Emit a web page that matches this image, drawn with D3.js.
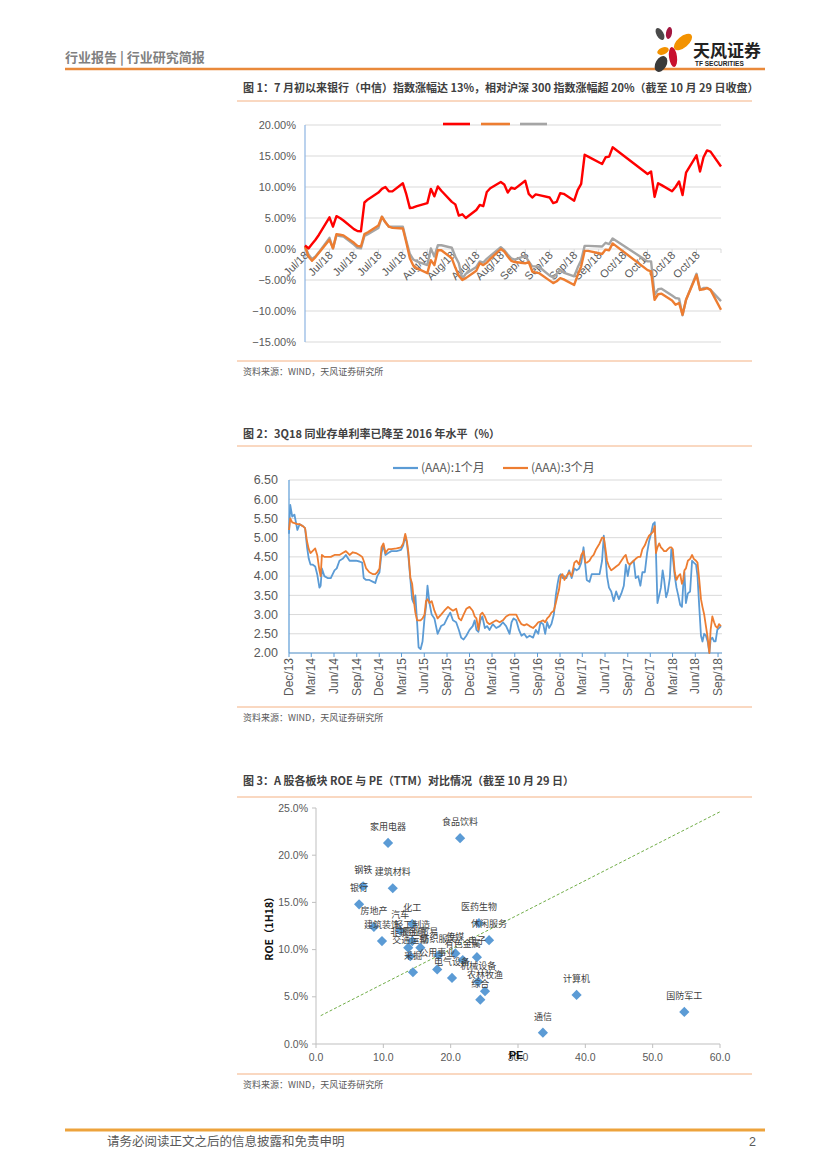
<!DOCTYPE html>
<html>
<head>
<meta charset="utf-8">
<script src="https://cdn.jsdelivr.net/npm/d3@7"></script>
<style>
body { margin: 0; background: #fff; }
svg { display: block; }
</style>
</head>
<body>
<svg id="page" width="827" height="1169"></svg>
<script>
/* global d3 */

// ---------- figure 1: bank index vs benchmarks, Jul-Oct 2018 (%) ----------
const perfDates = [
  '2018-07-02', '2018-07-03', '2018-07-04', '2018-07-05', '2018-07-06', '2018-07-09', '2018-07-10', '2018-07-11',
  '2018-07-12', '2018-07-13', '2018-07-16', '2018-07-17', '2018-07-18', '2018-07-19', '2018-07-20', '2018-07-23',
  '2018-07-24', '2018-07-25', '2018-07-26', '2018-07-27', '2018-07-30', '2018-07-31',
  '2018-08-01', '2018-08-02', '2018-08-03', '2018-08-06', '2018-08-07', '2018-08-08', '2018-08-09', '2018-08-10',
  '2018-08-13', '2018-08-14', '2018-08-15', '2018-08-16', '2018-08-17', '2018-08-20', '2018-08-21', '2018-08-22',
  '2018-08-23', '2018-08-24', '2018-08-27', '2018-08-28', '2018-08-29', '2018-08-30', '2018-08-31',
  '2018-09-03', '2018-09-04', '2018-09-05', '2018-09-06', '2018-09-07', '2018-09-10', '2018-09-11', '2018-09-12',
  '2018-09-13', '2018-09-14', '2018-09-17', '2018-09-18', '2018-09-19', '2018-09-20', '2018-09-21', '2018-09-25',
  '2018-09-26', '2018-09-27', '2018-09-28',
  '2018-10-08', '2018-10-09', '2018-10-10', '2018-10-11', '2018-10-12', '2018-10-15', '2018-10-16', '2018-10-17',
  '2018-10-18', '2018-10-19', '2018-10-22', '2018-10-23', '2018-10-24', '2018-10-25', '2018-10-26', '2018-10-29'
];
const perfRed = [
  0.6, 0.1, 0.8, 1.5, 2.3, 5.1, 3.6, 5.3, 5.0, 4.6, 3.2, 2.9, 2.85, 7.5, 8.0, 9.1, 9.7, 10.0, 9.3, 9.3, 10.6, 8.8,
  6.6, 6.7, 6.9, 7.4, 9.7, 8.5, 10.1, 9.4, 7.6, 7.2, 5.4, 5.6, 5.0, 6.3, 7.1, 6.9, 9.2, 9.8, 10.8, 10.4, 9.1, 9.9, 9.7,
  11.0, 8.9, 8.3, 8.8, 8.7, 8.3, 7.4, 7.6, 9.0, 8.9, 7.8, 9.5, 10.5, 15.2, 14.9, 13.7, 14.8, 14.9, 16.4,
  12.1, 12.5, 8.4, 10.6, 10.3, 9.3, 10.0, 10.9, 8.7, 12.3, 15.1, 12.5, 14.8, 15.9, 15.7, 13.3
];
const perfOrange = [
  0.4, -1.2, -1.9, -1.3, -0.6, 1.5, 0.1, 2.4, 2.3, 2.2, 1.0, 0.5, 0.4, 2.4, 2.7, 3.8, 5.2, 4.3, 3.6, 3.4, 3.3, 1.0,
  -1.5, -2.7, -3.1, -3.9, -1.8, -2.6, -0.2, -0.2, -1.5, -3.0, -4.3, -5.0, -4.7, -3.5, -2.3, -2.6, -2.2, -1.6, 0.0, -0.4,
  -1.2, -1.9, -2.1,
  -2.3, -2.1, -3.6, -3.8, -3.9, -5.1, -5.5, -5.2, -4.7, -4.9, -5.8, -4.2, -2.8, -0.3, -0.3, -0.8, -0.1, -0.2, 0.9,
  -3.4, -3.6, -8.2, -7.3, -7.2, -8.3, -9.0, -8.7, -10.6, -8.2, -4.2, -6.6, -6.5, -6.3, -6.6, -9.8
];
const perfGray = [
  0.5, -0.9, -1.6, -1.2, -0.5, 1.8, 0.1, 2.2, 2.1, 2.0, 0.7, 0.2, 0.1, 2.1, 2.4, 3.4, 5.2, 4.3, 3.6, 3.6, 3.6, 1.3,
  -0.8, -1.7, -2.0, -2.6, 0.1, -1.2, 0.6, 0.6, 0.2, -1.2, -2.3, -4.8, -4.0, -2.9, -2.0, -2.2, -1.6, -1.1, 0.3, -0.2,
  -0.9, -1.5, -1.7,
  -1.1, -2.0, -2.8, -2.8, -2.9, -4.3, -4.6, -4.0, -3.4, -3.8, -4.4, -3.0, -1.8, 0.5, 0.5, 0.4, 1.0, 0.8, 1.7,
  -2.0, -2.0, -7.4, -6.5, -6.4, -7.5, -7.9, -8.0, -10.7, -8.2, -4.0, -6.6, -6.3, -6.3, -6.6, -8.4
];
const perfTicks = [-15, -10, -5, 0, 5, 10, 15, 20];

// ---------- figure 2: NCD yields, AAA 1M / 3M (%) ----------
const rateDates = [
  '2013-12-01', '2013-12-06', '2013-12-14', '2013-12-23', '2014-01-04', '2014-01-13', '2014-01-26', '2014-02-04', '2014-02-12', '2014-02-19',
  '2014-02-26', '2014-03-06', '2014-03-17', '2014-03-25', '2014-04-03', '2014-04-08', '2014-04-13', '2014-04-23', '2014-05-06', '2014-05-19',
  '2014-06-03', '2014-06-12', '2014-06-23', '2014-07-06', '2014-07-19', '2014-08-03', '2014-08-16', '2014-08-29', '2014-09-12', '2014-09-23',
  '2014-09-29', '2014-10-09', '2014-10-22', '2014-11-06', '2014-11-15', '2014-11-23', '2014-12-02', '2014-12-10', '2014-12-18', '2014-12-26',
  '2015-01-06', '2015-01-19', '2015-02-09', '2015-02-27', '2015-03-08', '2015-03-16', '2015-03-23', '2015-03-29', '2015-04-06', '2015-04-13',
  '2015-04-19', '2015-04-26', '2015-05-03', '2015-05-09', '2015-05-17', '2015-05-25', '2015-06-02', '2015-06-08', '2015-06-14', '2015-06-22',
  '2015-07-01', '2015-07-12', '2015-07-25', '2015-08-08', '2015-08-21', '2015-09-05', '2015-09-14', '2015-09-25', '2015-10-08', '2015-10-19',
  '2015-10-28', '2015-11-07', '2015-11-18', '2015-12-01', '2015-12-14', '2015-12-22', '2015-12-29', '2016-01-06', '2016-01-14', '2016-01-22',
  '2016-02-01', '2016-02-10', '2016-02-20', '2016-03-04', '2016-03-18', '2016-04-01', '2016-04-14', '2016-04-27', '2016-05-11', '2016-05-19',
  '2016-05-27', '2016-06-07', '2016-06-18', '2016-06-28', '2016-07-09', '2016-07-20', '2016-07-31', '2016-08-14', '2016-08-25', '2016-09-04',
  '2016-09-13', '2016-09-24', '2016-10-02', '2016-10-10', '2016-10-18', '2016-10-27', '2016-11-06', '2016-11-14', '2016-11-21', '2016-11-27',
  '2016-12-04', '2016-12-11', '2016-12-19', '2016-12-27', '2017-01-07', '2017-01-17', '2017-01-28', '2017-02-06', '2017-02-16', '2017-02-25',
  '2017-03-06', '2017-03-13', '2017-03-19', '2017-03-30', '2017-04-08', '2017-04-16', '2017-04-26', '2017-05-10', '2017-05-20', '2017-05-27',
  '2017-06-02', '2017-06-09', '2017-06-17', '2017-06-26', '2017-07-06', '2017-07-16', '2017-07-27', '2017-08-06', '2017-08-16', '2017-08-24',
  '2017-09-01', '2017-09-09', '2017-09-17', '2017-09-25', '2017-10-03', '2017-10-13', '2017-10-22', '2017-10-30', '2017-11-09', '2017-11-18',
  '2017-11-26', '2017-12-04', '2017-12-12', '2017-12-19', '2017-12-24', '2017-12-30', '2018-01-06', '2018-01-13', '2018-01-20', '2018-01-26',
  '2018-02-03', '2018-02-10', '2018-02-18', '2018-02-24', '2018-03-02', '2018-03-10', '2018-03-17', '2018-03-24', '2018-04-01', '2018-04-08',
  '2018-04-13', '2018-04-18', '2018-04-24', '2018-05-02', '2018-05-11', '2018-05-19', '2018-05-26', '2018-06-04', '2018-06-10', '2018-06-17',
  '2018-06-24', '2018-06-30', '2018-07-07', '2018-07-14', '2018-07-21', '2018-07-28', '2018-08-02', '2018-08-09', '2018-08-16', '2018-08-22',
  '2018-08-29', '2018-09-05', '2018-09-13'
];
const rate1M = [
  5.10, 5.85, 5.55, 5.60, 5.20, 5.35, 5.30, 5.25, 4.75, 4.45,
  4.30, 4.30, 4.25, 4.05, 3.70, 3.75, 4.20, 4.00, 3.95, 3.95,
  4.15, 4.20, 4.40, 4.45, 4.55, 4.40, 4.40, 4.40, 4.38, 4.35,
  3.95, 3.90, 3.90, 3.85, 3.82, 4.00, 4.10, 4.60, 4.80, 4.55,
  4.60, 4.65, 4.65, 4.68, 4.80, 5.05, 4.85, 4.50, 3.90, 3.40,
  3.30, 3.50, 2.80, 2.15, 2.10, 2.30, 2.90, 3.20, 3.75, 3.30,
  3.00, 2.90, 2.50, 2.70, 2.75, 2.95, 3.05, 2.85, 2.80, 2.60,
  2.40, 2.35, 2.45, 2.60, 2.70, 2.85, 2.60, 2.55, 2.85, 2.95,
  2.65, 2.70, 2.60, 2.75, 2.65, 2.70, 2.80, 2.70, 2.50, 2.80,
  2.90, 2.85, 2.60, 2.45, 2.50, 2.40, 2.45, 2.40, 2.60, 2.50,
  2.80, 2.75, 2.50, 2.80, 2.65, 2.75, 3.00, 3.50, 3.80, 4.00,
  4.05, 3.95, 4.00, 3.95, 4.15, 3.95, 4.20, 4.15, 4.20, 4.35,
  4.75, 4.30, 3.90, 3.85, 4.05, 4.05, 4.05, 4.05, 4.40, 5.05,
  4.60, 4.00, 3.70, 3.60, 3.35, 3.60, 3.40, 3.55, 3.75, 4.30,
  4.00, 4.30, 4.35, 4.40, 3.95, 4.00, 3.75, 4.10, 4.10, 4.60,
  4.90, 5.10, 5.35, 5.40, 4.60, 3.30, 3.50, 3.70, 4.15, 3.90,
  3.45, 3.60, 3.95, 4.70, 4.50, 4.00, 3.70, 3.50, 3.25, 3.20,
  3.75, 4.10, 3.30, 3.55, 3.60, 4.40, 4.35, 4.30, 4.00, 3.20,
  2.45, 2.30, 2.50, 2.45, 2.30, 2.00, 2.35, 2.40, 2.30, 2.30,
  2.60, 2.65, 2.70
];
const rate3M = [
  5.20, 5.50, 5.40, 5.38, 5.35, 5.35, 5.30, 5.25, 4.90, 4.70,
  4.60, 4.65, 4.72, 4.55, 4.15, 4.00, 4.55, 4.50, 4.50, 4.50,
  4.55, 4.55, 4.55, 4.60, 4.65, 4.55, 4.62, 4.60, 4.55, 4.50,
  4.40, 4.20, 4.10, 4.05, 4.05, 4.10, 4.20, 4.75, 4.85, 4.60,
  4.70, 4.70, 4.72, 4.75, 4.85, 5.10, 4.90, 4.60, 3.95, 3.80,
  3.40, 3.05, 2.85, 2.85, 2.85, 2.90, 3.00, 3.35, 3.40, 3.30,
  3.35, 3.10, 2.90, 3.00, 3.10, 3.20, 3.15, 3.10, 3.15, 2.90,
  2.85, 3.00, 3.15, 3.20, 3.10, 2.95, 2.90, 2.60, 3.00, 3.05,
  2.95, 2.80, 2.75, 2.80, 2.85, 2.80, 2.85, 2.95, 3.00, 3.00,
  3.00, 3.00, 2.85, 2.75, 2.72, 2.75, 2.70, 2.65, 2.72, 2.80,
  2.82, 2.85, 2.80, 2.90, 2.95, 3.05, 3.10, 3.30, 3.50, 3.65,
  4.00, 4.05, 3.90, 4.00, 4.10, 4.00, 4.35, 4.40, 4.30, 4.55,
  4.65, 4.35, 4.35, 4.40, 4.50, 4.55, 4.70, 4.85, 5.00, 5.00,
  4.75, 4.40, 4.25, 4.15, 4.20, 4.25, 4.30, 4.40, 4.50, 4.55,
  4.35, 4.30, 4.35, 4.40, 4.45, 4.50, 4.50, 4.70, 4.80, 4.95,
  5.05, 5.10, 5.15, 5.30, 4.60, 4.75, 4.85, 4.75, 4.70, 4.65,
  4.65, 4.70, 4.75, 4.75, 4.70, 4.10, 3.90, 4.00, 4.05, 3.80,
  3.90, 4.15, 4.20, 4.40, 4.45, 4.55, 4.45, 4.40, 4.35, 3.90,
  3.40, 3.20, 3.00, 2.70, 2.40, 2.00, 2.60, 2.95, 2.80, 2.70,
  2.65, 2.75, 2.70
];
const rateSeriesNames = ['(AAA):1个月', '(AAA):3个月'];
const rateTicks = [2.0, 2.5, 3.0, 3.5, 4.0, 4.5, 5.0, 5.5, 6.0, 6.5];

// ---------- figure 3: sector ROE (1H18) vs PE (TTM) ----------
const sectors = ['家用电器', '食品饮料', '钢铁', '建筑材料', '银行', '房地产', '建筑装饰', '汽车', '化工', '轻工制造',
  '非银金融', '商业贸易', '交通运输', '纺织服装', '传媒', '有色金属', '电子', '公用事业', '采掘', '电气设备',
  '机械设备', '农林牧渔', '综合', '医药生物', '休闲服务', '计算机', '通信', '国防军工'];
const sectorPE = [10.7, 21.4, 7.0, 11.4, 6.4, 8.6, 9.8, 12.5, 14.3, 14.3,
  13.7, 15.5, 14.0, 18.2, 20.7, 21.8, 23.9, 18.0, 14.4, 20.2,
  24.1, 25.1, 24.4, 24.2, 25.7, 38.7, 33.7, 54.7];
const sectorROE = [21.3, 21.8, 16.7, 16.5, 14.8, 12.4, 10.9, 12.0, 12.7, 10.9,
  10.2, 10.2, 9.3, 9.4, 9.6, 8.9, 9.2, 7.9, 7.6, 7.0,
  6.6, 5.6, 4.7, 12.8, 11.0, 5.2, 1.2, 3.4];
const trendPE = [0.7, 60];
const trendROE = [3.0, 24.6];
const peTicks = [0, 10, 20, 30, 40, 50, 60];
const roeTicks = [0, 5, 10, 15, 20, 25];

const CJK = '"Noto Sans CJK SC", sans-serif';
const NUM = '"Liberation Sans", Arial, sans-serif';
const TXT = '#595959';
const parse = d3.timeParse('%Y-%m-%d');
const svg = d3.select('#page');

// ---------- page header ----------
svg.append('text').attr('x', 65).attr('y', 62)
  .style('font-family', CJK).style('font-size', '13px').style('font-weight', 'bold')
  .style('fill', '#7f7f7f').text('行业报告 | 行业研究简报');
svg.append('line').attr('x1', 65).attr('x2', 765).attr('y1', 69).attr('y2', 69)
  .style('stroke', '#E9893A').style('stroke-width', 2.5);

const logo = svg.append('g');
const petals = [
  { cx: 660, cy: 34, rx: 3.5, ry: 6.5, r: -30, c: '#4a4a4a' },
  { cx: 669, cy: 33, rx: 3, ry: 6, r: 10, c: '#a3173f' },
  { cx: 683, cy: 42, rx: 5.5, ry: 11, r: 50, c: '#F39200' },
  { cx: 663, cy: 51, rx: 6, ry: 3.5, r: -20, c: '#F39200' },
  { cx: 673, cy: 57, rx: 4, ry: 10, r: -8, c: '#c8102e' },
  { cx: 661, cy: 64, rx: 5.5, ry: 8.5, r: 30, c: '#3a3a3a' }
];
logo.selectAll('ellipse').data(petals).enter().append('ellipse')
  .attr('cx', d => d.cx).attr('cy', d => d.cy).attr('rx', d => d.rx).attr('ry', d => d.ry)
  .attr('transform', d => `rotate(${d.r},${d.cx},${d.cy})`)
  .style('fill', d => d.c);
logo.append('text').attr('x', 693).attr('y', 57)
  .style('font-family', CJK).style('font-size', '17px').style('font-weight', 'bold')
  .style('fill', '#222').text('天风证券');
logo.append('text').attr('x', 695).attr('y', 66)
  .style('font-family', NUM).style('font-size', '6.5px').style('font-weight', 'bold')
  .style('fill', '#222').text('TF SECURITIES');

// ---------- captions and rules ----------
function rule(y) {
  svg.append('line').attr('x1', 237).attr('x2', 752).attr('y1', y).attr('y2', y)
    .style('stroke', '#F4B183').style('stroke-width', 1);
}
function caption(y, text) {
  svg.append('text').attr('x', 243).attr('y', y)
    .style('font-family', CJK).style('font-size', '11px').style('font-weight', 'bold')
    .style('fill', '#404040').text(text);
}
function source(y) {
  svg.append('text').attr('x', 243).attr('y', y)
    .style('font-family', CJK).style('font-size', '9px').style('fill', TXT)
    .text('资料来源：WIND，天风证券研究所');
}

caption(92, '图 1：7 月初以来银行（中信）指数涨幅达 13%，相对沪深 300 指数涨幅超 20%（截至 10 月 29 日收盘）');
rule(101);
rule(361);
source(375);

caption(438, '图 2：3Q18 同业存单利率已降至 2016 年水平（%）');
rule(446);
rule(707);
source(721);

caption(785, '图 3：A 股各板块 ROE 与 PE（TTM）对比情况（截至 10 月 29 日）');
rule(797);
rule(1074);
source(1088);

// ---------- figure 1 ----------
(function drawPerf() {
  const g = svg.append('g');
  const start = parse(perfDates[0]);
  const end = parse(perfDates[perfDates.length - 1]);
  const x = d3.scaleTime().domain([start, end]).range([305, 721]);
  const y = d3.scaleLinear().domain([-15, 20]).range([342, 125]);

  g.selectAll('.grid').data(perfTicks).enter().append('line')
    .attr('x1', 305).attr('x2', 721).attr('y1', d => y(d)).attr('y2', d => y(d))
    .style('stroke', '#d9d9d9').style('stroke-width', 1);
  g.append('line').attr('x1', 305).attr('x2', 305).attr('y1', y(20)).attr('y2', y(-15))
    .style('stroke', '#8DB4E2').style('stroke-width', 1.2);
  g.selectAll('.ylab').data(perfTicks).enter().append('text')
    .attr('x', 296).attr('y', d => y(d)).attr('dy', '0.35em').attr('text-anchor', 'end')
    .style('font-family', NUM).style('font-size', '11px').style('fill', TXT)
    .text(d => `${d3.format('.2f')(d)}%`);

  const weekTicks = d3.range(18).map(i => d3.timeDay.offset(start, 7 * i));
  g.selectAll('.tick').data(weekTicks).enter().append('line')
    .attr('x1', d => x(d)).attr('x2', d => x(d)).attr('y1', y(0)).attr('y2', y(0) + 4)
    .style('stroke', '#d9d9d9');
  const fmt = d3.timeFormat('%b/%y');
  g.selectAll('.xlab').data(weekTicks.slice(0, 17)).enter().append('text')
    .attr('transform', d => `translate(${x(d) + 4},${y(0) + 7}) rotate(-45)`)
    .attr('text-anchor', 'end')
    .style('font-family', NUM).style('font-size', '11px').style('fill', TXT)
    .text(d => fmt(d));

  const series = [
    { values: perfGray, color: '#A5A5A5' },
    { values: perfOrange, color: '#ED7D31' },
    { values: perfRed, color: '#FF0000' }
  ];
  const line = d3.line().x(d => x(d.date)).y(d => y(d.v));
  series.forEach(s => {
    const pts = perfDates.map((dt, i) => ({ date: parse(dt), v: s.values[i] }));
    g.append('path').datum(pts).attr('d', line)
      .style('fill', 'none').style('stroke', s.color).style('stroke-width', 2.4)
      .style('stroke-linejoin', 'round');
  });

  // legend swatches (no text in the original)
  const legend = [
    { x1: 443, x2: 470, color: '#FF0000' },
    { x1: 481, x2: 510, color: '#ED7D31' },
    { x1: 520, x2: 547, color: '#A5A5A5' }
  ];
  g.selectAll('.leg').data(legend).enter().append('line')
    .attr('x1', d => d.x1).attr('x2', d => d.x2).attr('y1', 124).attr('y2', 124)
    .style('stroke', d => d.color).style('stroke-width', 2.6);
}());

// ---------- figure 2 ----------
(function drawRates() {
  const g = svg.append('g');
  const start = parse('2013-12-01');
  const x = d3.scaleTime().domain([start, parse('2018-09-17')]).range([289, 722]);
  const y = d3.scaleLinear().domain([2, 6.5]).range([653, 480]);

  g.selectAll('.grid').data(rateTicks).enter().append('line')
    .attr('x1', 289).attr('x2', 722).attr('y1', d => y(d)).attr('y2', d => y(d))
    .style('stroke', '#d9d9d9');
  g.append('line').attr('x1', 289).attr('x2', 289).attr('y1', y(6.5)).attr('y2', y(2))
    .style('stroke', '#5B9BD5').style('stroke-width', 1.2);
  g.append('line').attr('x1', 289).attr('x2', 722).attr('y1', y(2)).attr('y2', y(2))
    .style('stroke', '#5B9BD5').style('stroke-width', 1.2);
  g.selectAll('.ylab').data(rateTicks).enter().append('text')
    .attr('x', 278).attr('y', d => y(d)).attr('dy', '0.35em').attr('text-anchor', 'end')
    .style('font-family', NUM).style('font-size', '12.5px').style('fill', TXT)
    .text(d => d3.format('.2f')(d));

  const quarters = d3.range(20).map(i => d3.timeMonth.offset(start, 3 * i));
  g.selectAll('.tick').data(quarters).enter().append('line')
    .attr('x1', d => x(d)).attr('x2', d => x(d)).attr('y1', y(2)).attr('y2', y(2) + 4)
    .style('stroke', '#5B9BD5');
  const fmt = d3.timeFormat('%b/%y');
  g.selectAll('.xlab').data(quarters).enter().append('text')
    .attr('transform', d => `translate(${x(d) + 4},${y(2) + 5}) rotate(-90)`)
    .attr('text-anchor', 'end')
    .style('font-family', NUM).style('font-size', '12px').style('fill', TXT)
    .text(d => fmt(d));

  const line = d3.line().x(d => x(d.date)).y(d => y(d.v));
  const colors = ['#5B9BD5', '#ED7D31'];
  [rate1M, rate3M].forEach((vals, k) => {
    const pts = rateDates.map((dt, i) => ({ date: parse(dt), v: vals[i] }));
    g.append('path').datum(pts).attr('d', line)
      .style('fill', 'none').style('stroke', colors[k]).style('stroke-width', 1.8)
      .style('stroke-linejoin', 'round');
  });

  const legX = [393, 503];
  rateSeriesNames.forEach((name, k) => {
    g.append('line').attr('x1', legX[k]).attr('x2', legX[k] + 25).attr('y1', 468).attr('y2', 468)
      .style('stroke', colors[k]).style('stroke-width', 2.2);
    g.append('text').attr('x', legX[k] + 28).attr('y', 468).attr('dy', '0.35em')
      .style('font-family', CJK).style('font-size', '12px').style('fill', TXT).text(name);
  });
}());

// ---------- figure 3 ----------
(function drawScatter() {
  const g = svg.append('g');
  const x = d3.scaleLinear().domain([0, 60]).range([316, 720]);
  const y = d3.scaleLinear().domain([0, 25]).range([1044, 808]);

  g.append('line').attr('x1', x(0)).attr('x2', x(0)).attr('y1', y(25)).attr('y2', y(0))
    .style('stroke', '#bfbfbf');
  g.append('line').attr('x1', x(0)).attr('x2', x(60)).attr('y1', y(0)).attr('y2', y(0))
    .style('stroke', '#bfbfbf');
  g.selectAll('.yt').data(roeTicks).enter().append('line')
    .attr('x1', x(0) - 4).attr('x2', x(0)).attr('y1', d => y(d)).attr('y2', d => y(d))
    .style('stroke', '#bfbfbf');
  g.selectAll('.xt').data(peTicks).enter().append('line')
    .attr('x1', d => x(d)).attr('x2', d => x(d)).attr('y1', y(0)).attr('y2', y(0) + 4)
    .style('stroke', '#bfbfbf');
  g.selectAll('.ylab').data(roeTicks).enter().append('text')
    .attr('x', 308).attr('y', d => y(d)).attr('dy', '0.35em').attr('text-anchor', 'end')
    .style('font-family', NUM).style('font-size', '10.5px').style('fill', TXT)
    .text(d => `${d3.format('.1f')(d)}%`);
  g.selectAll('.xlab').data(peTicks).enter().append('text')
    .attr('x', d => x(d)).attr('y', 1061).attr('text-anchor', 'middle')
    .style('font-family', NUM).style('font-size', '10.5px').style('fill', TXT)
    .text(d => d3.format('.1f')(d));

  g.append('text').attr('x', 516).attr('y', 1059).attr('text-anchor', 'middle')
    .style('font-family', NUM).style('font-size', '11px').style('font-weight', 'bold')
    .style('fill', '#111').text('PE');
  g.append('text').attr('transform', 'translate(273,926) rotate(-90)').attr('text-anchor', 'middle')
    .style('font-family', CJK).style('font-size', '10.5px').style('font-weight', 'bold')
    .style('fill', '#111').text('ROE（1H18）');

  g.append('line')
    .attr('x1', x(trendPE[0])).attr('y1', y(trendROE[0]))
    .attr('x2', x(trendPE[1])).attr('y2', y(trendROE[1]))
    .style('stroke', '#70AD47').style('stroke-width', 1).style('stroke-dasharray', '3,2');

  const pts = sectors.map((name, i) => ({ name, pe: sectorPE[i], roe: sectorROE[i] }));
  const diamond = d3.symbol().type(d3.symbolSquare).size(52);
  g.selectAll('.pt').data(pts).enter().append('path')
    .attr('d', diamond)
    .attr('transform', d => `translate(${x(d.pe)},${y(d.roe)}) rotate(45)`)
    .style('fill', '#5B9BD5');
  g.selectAll('.lab').data(pts).enter().append('text')
    .attr('x', d => x(d.pe)).attr('y', d => y(d.roe) - 13).attr('text-anchor', 'middle')
    .style('font-family', CJK).style('font-size', '9px').style('fill', '#404040')
    .text(d => d.name);
}());

// ---------- footer ----------
svg.append('line').attr('x1', 65).attr('x2', 765).attr('y1', 1130).attr('y2', 1130)
  .style('stroke', '#EDA33C').style('stroke-width', 3);
svg.append('text').attr('x', 107).attr('y', 1146)
  .style('font-family', CJK).style('font-size', '12.5px').style('fill', TXT)
  .text('请务必阅读正文之后的信息披露和免责申明');
svg.append('text').attr('x', 756).attr('y', 1146).attr('text-anchor', 'end')
  .style('font-family', NUM).style('font-size', '12.5px').style('fill', TXT).text('2');
</script>
</body>
</html>
